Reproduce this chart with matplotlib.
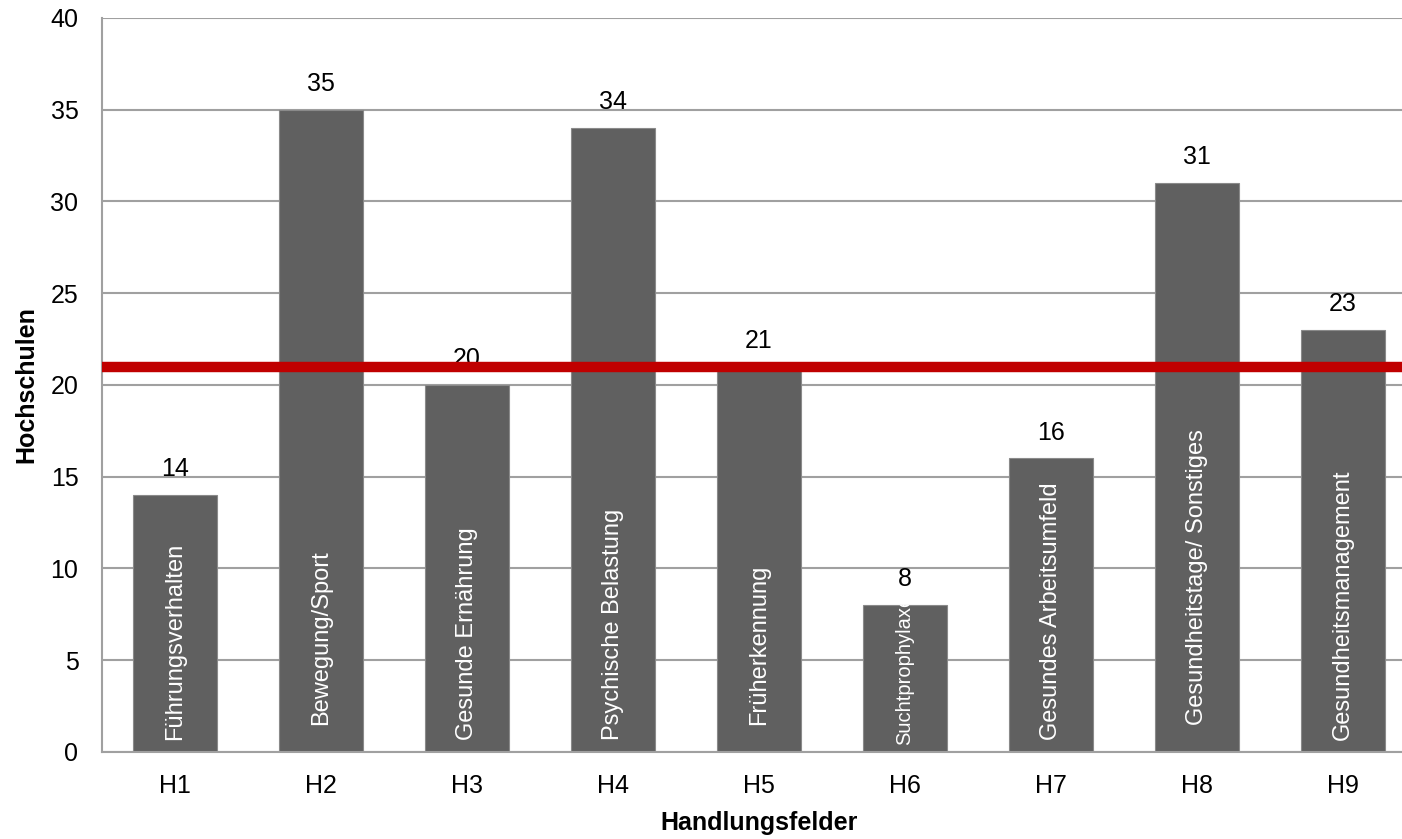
import matplotlib.pyplot as plt

plt.rcParams['font.family'] = ['Liberation Sans', 'DejaVu Sans']

# Data
felder = ['H1', 'H2', 'H3', 'H4', 'H5', 'H6', 'H7', 'H8', 'H9']
hochschulen = [14, 35, 20, 34, 21, 8, 16, 31, 23]
namen = ['Führungsverhalten', 'Bewegung/Sport', 'Gesunde Ernährung',
         'Psychische Belastung', 'Früherkennung', 'Suchtprophylaxe',
         'Gesundes Arbeitsumfeld', 'Gesundheitstage/ Sonstiges',
         'Gesundheitsmanagement']
mittelwert = 21

fig = plt.figure(figsize=(14.02, 8.39), dpi=100)
ax = fig.add_axes([0.0728, 0.1037, 0.937, 0.875])

x = list(range(len(felder)))
bars = ax.bar(x, hochschulen, width=0.575, color='#606060',
              edgecolor='#8a8a8a', linewidth=0.8, zorder=2)

ax.set_xlim(-0.5, len(felder) - 0.5)
ax.set_ylim(0, 40)
ax.set_yticks(range(0, 41, 5))
ax.set_xticks(x)
ax.set_xticklabels(felder)
ax.tick_params(axis='both', length=0, labelsize=18)
ax.tick_params(axis='x', pad=16)
ax.tick_params(axis='y', pad=17)
ax.grid(axis='y', color='#a0a0a0', linewidth=1.5, zorder=0)

for side in ['top', 'right']:
    ax.spines[side].set_visible(False)
for side in ['left', 'bottom']:
    ax.spines[side].set_color('#a0a0a0')
    ax.spines[side].set_linewidth(1.5)

# value on top of each bar
for xi, v in zip(x, hochschulen):
    ax.text(xi, v + 0.75, str(v), ha='center', va='bottom', fontsize=18, zorder=4)

# category names inside the bars, lifted a little off the base (points)
lift = [8.5, 19.5, 8.5, 8.5, 19.5, 5, 8.5, 19.5, 8.5]
for bar, xi, name, off in zip(bars, x, namen, lift):
    small = name == 'Suchtprophylaxe'
    t = ax.annotate(name, xy=(xi, 0), xytext=(0, off), textcoords='offset points',
                    rotation=90, color='white', ha='center', va='bottom',
                    fontsize=14.5 if small else 17, zorder=3)
    t.set_clip_path(bar)

# average line
ax.axhline(mittelwert, color='#c00000', linewidth=7.5, zorder=5)

ax.set_xlabel('Handlungsfelder', fontsize=18, fontweight='bold', labelpad=9)
ax.set_ylabel('Hochschulen', fontsize=18, fontweight='bold', labelpad=9)

plt.savefig('out.png', dpi=100)
